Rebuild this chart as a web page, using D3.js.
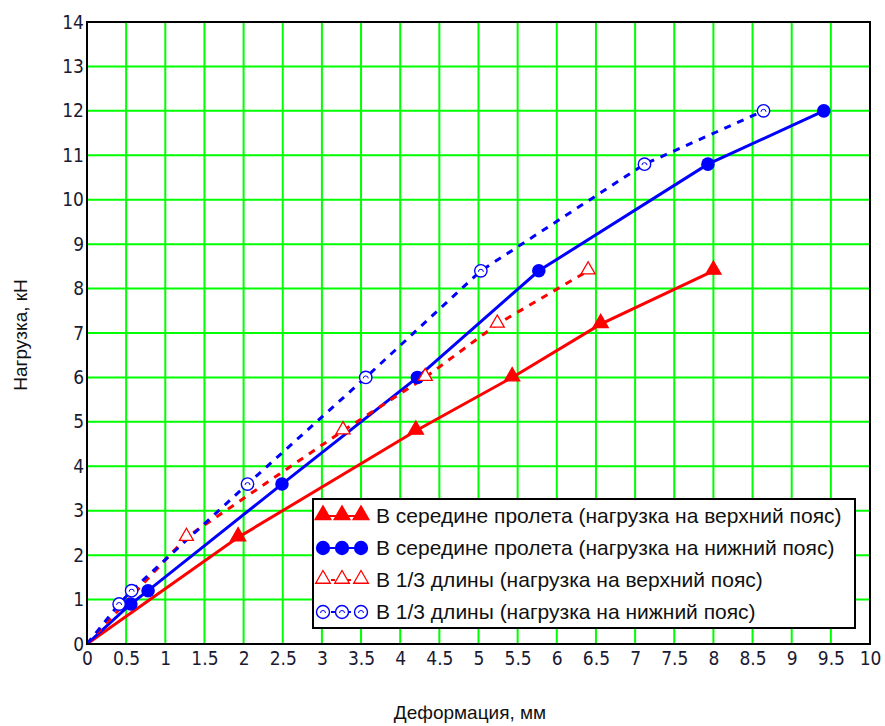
<!DOCTYPE html>
<html>
<head>
<meta charset="utf-8">
<script src="https://cdn.jsdelivr.net/npm/d3@7"></script>
<style>
  body { margin: 0; background: #fff; }
  svg { display: block; }
  .tick text { font-family: 'Liberation Sans Narrow', 'DejaVu Sans Condensed', Arial, sans-serif; font-size: 19px; fill: #1a1a33; }
</style>
</head>
<body>
<svg id="chart" width="885" height="726"></svg>
<script>
// deformation (mm) / load (kN)
const midTopX = [0, 1.93, 4.2, 5.43, 6.56, 8.0];
const midTopY = [0, 2.4, 4.8, 6.0, 7.2, 8.4];
const midBotX = [0, 0.56, 0.78, 2.49, 4.22, 5.77, 7.93, 9.41];
const midBotY = [0, 0.9, 1.2, 3.6, 6.0, 8.4, 10.8, 12.0];
const thirdTopX = [0, 1.27, 3.27, 4.32, 5.24, 6.4];
const thirdTopY = [0, 2.4, 4.8, 6.0, 7.2, 8.4];
const thirdBotX = [0, 0.41, 0.57, 2.05, 3.56, 5.03, 7.12, 8.64];
const thirdBotY = [0, 0.9, 1.2, 3.6, 6.0, 8.4, 10.8, 12.0];

const legendLabels = [
  'В середине пролета (нагрузка на верхний пояс)',
  'В середине пролета (нагрузка на нижний пояс)',
  'В 1/3 длины (нагрузка на верхний пояс)',
  'В 1/3 длины (нагрузка на нижний пояс)'
];

const xTicks = d3.range(0, 10.01, 0.5);
const yTicks = d3.range(0, 15, 1);

const svg = d3.select('#chart');
const plotLeft = 87, plotRight = 870, plotTop = 22, plotBottom = 644;

const x = d3.scaleLinear().domain([0, 10]).range([plotLeft, plotRight]);
const y = d3.scaleLinear().domain([0, 14]).range([plotBottom, plotTop]);

const series = [
  { xs: midTopX, ys: midTopY, color: '#ff0000', dash: null, marker: 'triFill', label: legendLabels[0] },
  { xs: midBotX, ys: midBotY, color: '#0000ff', dash: null, marker: 'circFill', label: legendLabels[1] },
  { xs: thirdTopX, ys: thirdTopY, color: '#ff0000', dash: '7,7', marker: 'triOpen', label: legendLabels[2] },
  { xs: thirdBotX, ys: thirdBotY, color: '#0000ff', dash: '7,7', marker: 'circOpen', label: legendLabels[3] }
];

// grid
const grid = svg.append('g').attr('class', 'grid');
grid.selectAll('line.v')
  .data(xTicks.slice(1, -1))
  .enter().append('line')
    .attr('x1', d => x(d)).attr('x2', d => x(d))
    .attr('y1', plotTop).attr('y2', plotBottom)
    .attr('stroke', '#00ff00').attr('stroke-width', 2);
grid.selectAll('line.h')
  .data(yTicks.slice(1, -1))
  .enter().append('line')
    .attr('x1', plotLeft).attr('x2', plotRight)
    .attr('y1', d => y(d)).attr('y2', d => y(d))
    .attr('stroke', '#00ff00').attr('stroke-width', 2);

// axes
const xAxis = svg.append('g')
  .attr('transform', `translate(0,${plotBottom})`)
  .call(d3.axisBottom(x).tickValues(xTicks).tickSize(0).tickPadding(8).tickFormat(d => d3.format('')(d)));
xAxis.select('.domain').remove();

const yAxis = svg.append('g')
  .attr('transform', `translate(${plotLeft},0)`)
  .call(d3.axisLeft(y).tickValues(yTicks).tickSize(0).tickPadding(3));
yAxis.select('.domain').remove();

function drawMarker(g, kind, color, cx, cy, k) {
  k = k || 1;
  if (kind == 'triFill' || kind == 'triOpen') {
    g.append('path')
      .attr('d', d3.symbol().type(d3.symbolTriangle).size((kind == 'triFill' ? 100 : 85) * k * k)())
      .attr('transform', `translate(${cx},${cy - 1})`)
      .attr('fill', kind == 'triFill' ? color : '#fff')
      .attr('stroke', color).attr('stroke-width', 1.3);
  } else if (kind == 'circFill') {
    g.append('circle').attr('cx', cx).attr('cy', cy).attr('r', 6.8 * k).attr('fill', color);
  } else {
    g.append('circle').attr('cx', cx).attr('cy', cy).attr('r', 6.2 * k)
      .attr('fill', '#fff').attr('stroke', color).attr('stroke-width', 1.4);
    g.append('path')
      .attr('d', `M${cx - 2.5},${cy + 1}A2.5,2.5 0 0 1 ${cx + 2.5},${cy + 1}`)
      .attr('fill', 'none').attr('stroke', color).attr('stroke-width', 1);
  }
}

const line = d3.line().x(d => x(d[0])).y(d => y(d[1]));

const plot = svg.append('g');
for (const s of series) {
  const pts = s.xs.map((v, i) => [v, s.ys[i]]);
  plot.append('path')
    .attr('d', line(pts))
    .attr('fill', 'none')
    .attr('stroke', s.color)
    .attr('stroke-width', 3)
    .attr('stroke-dasharray', s.dash);
}
for (const s of series) {
  const g = plot.append('g');
  s.xs.forEach((v, i) => {
    if (i == 0) return;
    drawMarker(g, s.marker, s.color, x(v), y(s.ys[i]));
  });
}

// frame
svg.append('rect')
  .attr('x', plotLeft).attr('y', plotTop)
  .attr('width', plotRight - plotLeft).attr('height', plotBottom - plotTop)
  .attr('fill', 'none').attr('stroke', '#000').attr('stroke-width', 2);

// legend
const lg = svg.append('g').attr('transform', 'translate(313,499)');
lg.append('rect')
  .attr('width', 542).attr('height', 129)
  .attr('fill', '#fff').attr('stroke', '#000').attr('stroke-width', 2);
series.forEach((s, i) => {
  const cy = 17 + i * 32;
  const row = lg.append('g');
  row.append('line')
    .attr('x1', 10).attr('x2', 48).attr('y1', cy).attr('y2', cy)
    .attr('stroke', s.color).attr('stroke-width', 2)
    .attr('stroke-dasharray', s.dash ? '4,4' : null);
  for (const px of [10, 29, 48]) {
    drawMarker(row, s.marker, s.color, px, cy, 1.05);
  }
  row.append('text')
    .attr('x', 63).attr('y', cy + 7)
    .attr('font-family', 'Liberation Sans, Arial, sans-serif')
    .attr('font-size', 21)
    .attr('fill', '#111')
    .text(s.label);
});

// axis titles
svg.append('text')
  .attr('x', 470).attr('y', 719)
  .attr('text-anchor', 'middle')
  .attr('font-family', 'Liberation Sans, Arial, sans-serif')
  .attr('font-size', 19).attr('fill', '#111')
  .text('Деформация, мм');
svg.append('text')
  .attr('transform', 'translate(27,335) rotate(-90)')
  .attr('text-anchor', 'middle')
  .attr('font-family', 'Liberation Sans, Arial, sans-serif')
  .attr('font-size', 19).attr('fill', '#111')
  .text('Нагрузка, кН');
</script>
</body>
</html>
